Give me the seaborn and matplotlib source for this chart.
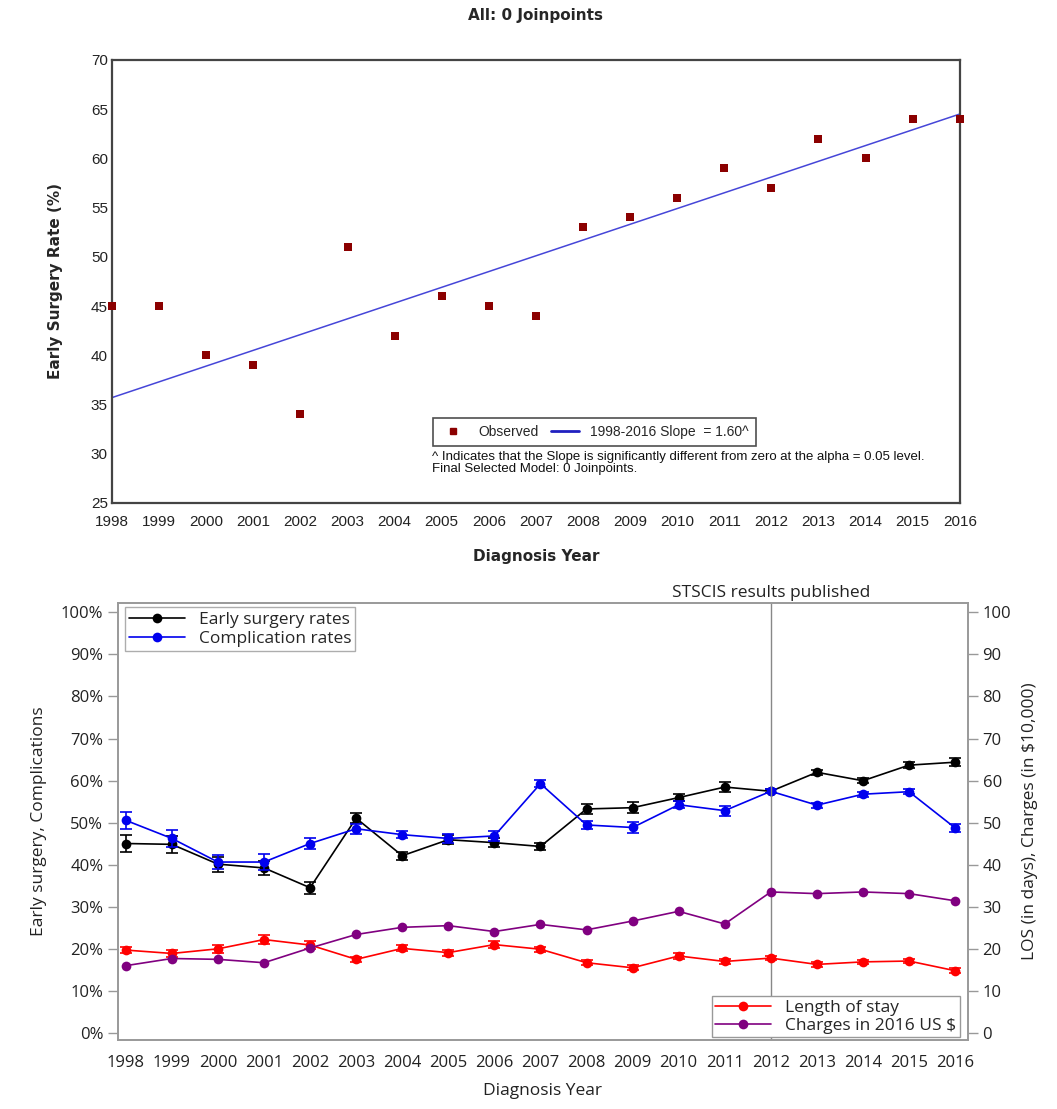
import numpy as np
import pandas as pd
import matplotlib
matplotlib.use('Agg')
import matplotlib.pyplot as plt
from matplotlib.lines import Line2D
import seaborn as sns

# 数据：诊断年份
years = list(range(1998, 2017))

# 上图：观测到的早期手术率 (%)
observed = [45, 45, 40, 39, 34, 51, 42, 46, 45, 44, 53, 54, 56, 59, 57, 62, 60, 64, 64]
# Joinpoint 趋势线两端 (1998, 2016)
trend_years = [1998, 2016]
trend_values = [35.7, 64.5]

# 下图：左轴 (%)
early_surgery = [45.1, 44.9, 40.2, 39.3, 34.6, 51.1, 42.2, 46.0, 45.3, 44.4,
                 53.3, 53.6, 56.0, 58.5, 57.5, 62.0, 60.0, 63.7, 64.4]
early_err = [2.0, 2.0, 1.8, 1.6, 1.4, 1.2, 1.0, 1.1, 1.1, 0.9,
             1.2, 1.3, 0.9, 1.1, 0.5, 0.6, 0.6, 0.7, 0.9]
complication = [50.6, 46.3, 40.7, 40.7, 45.1, 48.6, 47.2, 46.3, 46.9, 59.3,
                49.5, 48.9, 54.3, 52.9, 57.5, 54.2, 56.8, 57.4, 48.8]
compl_err = [2.0, 2.0, 1.7, 1.9, 1.4, 1.2, 0.9, 1.0, 1.2, 0.9,
             1.0, 1.2, 0.8, 1.2, 0.5, 0.6, 0.6, 0.6, 1.0]
# 下图：右轴
los = [19.8, 19.0, 20.1, 22.3, 21.0, 17.6, 20.2, 19.2, 21.1, 20.0,
       16.8, 15.6, 18.4, 17.1, 17.9, 16.4, 17.0, 17.2, 14.9]
los_err = [0.8, 0.8, 1.0, 1.1, 0.9, 0.6, 0.7, 0.7, 0.9, 0.6,
           0.6, 0.6, 0.6, 0.6, 0.5, 0.5, 0.5, 0.5, 0.6]
charges = [16.1, 17.8, 17.6, 16.8, 20.3, 23.5, 25.2, 25.6, 24.2, 25.9,
           24.6, 26.7, 29.0, 26.0, 33.6, 33.2, 33.6, 33.2, 31.5]

sns.set_style('white')
plt.rcParams['font.family'] = ['Liberation Sans', 'DejaVu Sans']

fig = plt.figure(figsize=(10.57, 11.09), dpi=100)

# ---------------- 上图 ----------------
ax1 = fig.add_axes([0.106, 0.5465, 0.802, 0.3995])
df_obs = pd.DataFrame({'year': years, 'rate': observed})
df_trend = pd.DataFrame({'year': trend_years, 'rate': trend_values})
sns.lineplot(data=df_trend, x='year', y='rate', ax=ax1, color='#4646d8', lw=1.1)
sns.scatterplot(data=df_obs, x='year', y='rate', ax=ax1, marker='s', s=36,
                color='#8b0000', edgecolor='#8b0000', linewidth=0, zorder=3, clip_on=False)
ax1.set_xlim(1998, 2016)
ax1.set_ylim(25, 70)
ax1.set_xticks(years)
ax1.set_yticks(range(25, 71, 5))
ax1.tick_params(axis='both', length=0, labelsize=11, colors='#222222')
ax1.tick_params(axis='x', pad=9)
ax1.tick_params(axis='y', pad=3)
for s in ax1.spines.values():
    s.set_color('#444444')
    s.set_linewidth(1.6)
ax1.set_title('All: 0 Joinpoints', family='DejaVu Sans', fontweight='bold', fontsize=11, pad=29)
ax1.set_xlabel('Diagnosis Year', family='DejaVu Sans', fontweight='bold', fontsize=11, labelpad=14)
ax1.set_ylabel('Early Surgery Rate (%)', family='DejaVu Sans', fontweight='bold', fontsize=11, labelpad=20)

h_obs = Line2D([], [], marker='s', color='#8b0000', lw=0, markersize=4)
h_tr = Line2D([], [], color='#2020c0', lw=2)
leg1 = ax1.legend([h_obs, h_tr], ['Observed', '1998-2016 Slope  = 1.60^'], ncol=2,
                  loc='upper left', bbox_to_anchor=(0.37, 0.207), frameon=True,
                  fancybox=False, edgecolor='#222222', fontsize=10, handlelength=2.0,
                  columnspacing=0.9, borderpad=0.5)
leg1.get_frame().set_linewidth(1.2)
ax1.text(0.378, 0.118, '^ Indicates that the Slope is significantly different from zero at the alpha = 0.05 level.\n'
         'Final Selected Model: 0 Joinpoints.', transform=ax1.transAxes, fontsize=9.5,
         va='top', ha='left', linespacing=1.05, color='#111111')

# ---------------- 下图 ----------------
plt.rcParams['font.family'] = ['Open Sans', 'DejaVu Sans']
ax2 = fig.add_axes([0.1116, 0.0622, 0.8042, 0.3941])
ax3 = ax2.twinx()
df_b = pd.DataFrame({'year': years, 'early': early_surgery, 'compl': complication,
                     'los': los, 'charges': charges})

def draw(ax, col, err, color, label):
    sns.lineplot(data=df_b, x='year', y=col, ax=ax, color=color, marker='o',
                 markersize=7, markeredgewidth=0, lw=1.2, label=label, legend=False)
    if err is not None:
        ax.errorbar(df_b['year'], df_b[col], yerr=err, fmt='none', ecolor=color,
                    elinewidth=1.2, capsize=4, capthick=1.2)

draw(ax2, 'early', early_err, 'black', 'Early surgery rates')
draw(ax2, 'compl', compl_err, '#0000ee', 'Complication rates')
draw(ax3, 'los', los_err, '#ff0000', 'Length of stay')
draw(ax3, 'charges', None, '#800080', 'Charges in 2016 US $')

for ax in (ax2, ax3):
    ax.set_xlim(1997.83, 2016.28)
    ax.set_ylim(-1.55, 102.2)
    ax.set_yticks(range(0, 101, 10))
    for s in ax.spines.values():
        s.set_color('#999999')
        s.set_linewidth(1.2)
ax2.axvline(2012, color='#888888', lw=1)
ax2.set_xticks(years)
ax2.set_yticklabels([f'{v}%' for v in range(0, 101, 10)])
ax2.tick_params(axis='both', direction='out', length=7, width=1, color='#999999',
                labelsize=12, labelcolor='#222222')
ax3.tick_params(axis='y', direction='out', length=7, width=1, color='#999999',
                labelsize=12, labelcolor='#222222')
ax2.set_xlabel('Diagnosis Year', fontsize=12.5, labelpad=9, color='#222222')
ax2.set_ylabel('Early surgery, Complications', fontsize=12.5, labelpad=10, color='#222222')
ax3.set_ylabel('LOS (in days), Charges (in $10,000)', fontsize=12.5, labelpad=8, color='#222222')
ax2.text(2012, 1.005, 'STSCIS results published', transform=ax2.get_xaxis_transform(),
         ha='center', va='bottom', fontsize=12.5, color='#222222')

h2, l2 = ax2.get_legend_handles_labels()
leg2 = ax2.legend(h2, l2, loc='upper left', bbox_to_anchor=(0.008, 0.99), fancybox=False,
                  edgecolor='#999999', fontsize=12.5, handlelength=3.2, borderpad=0.25,
                  labelspacing=0.15, borderaxespad=0)
h3, l3 = ax3.get_legend_handles_labels()
leg3 = ax3.legend(h3, l3, loc='lower right', bbox_to_anchor=(0.99, 0.006), fancybox=False,
                  edgecolor='#999999', fontsize=12.5, handlelength=3.2, borderpad=0.2,
                  labelspacing=0.1, borderaxespad=0, framealpha=1)

fig.savefig('out.png', dpi=100)
